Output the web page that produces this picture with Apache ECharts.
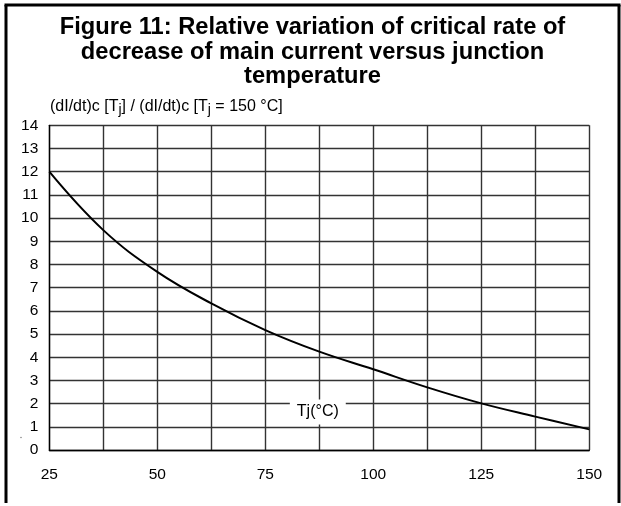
<!DOCTYPE html>
<html>
<head>
<meta charset="utf-8">
<script src="https://cdn.jsdelivr.net/npm/echarts@6/dist/echarts.min.js"></script>
<style>
html,body{margin:0;padding:0;background:#fff;}
#c{width:621px;height:506px;}
</style>
</head>
<body>
<div id="c"></div>
<script>
// Data
const temperatures = [25, 37.5, 50, 62.5, 75, 87.5, 100, 112.5, 125, 137.5, 150];
const ratioValues  = [12, 9.48, 7.68, 6.32, 5.17, 4.24, 3.48, 2.70, 2.01, 1.44, 0.89];
const xTickLabels = ['25', '50', '75', '100', '125', '150'];
const titleText = 'Figure 11: Relative variation of critical rate of\ndecrease of main current versus junction\ntemperature';
const xAxisLabel = 'Tj(°C)';

const FONT = '"Liberation Sans", Arial, sans-serif';
const chart = echarts.init(document.getElementById('c'), null, {renderer: 'canvas'});

const baseGraphic = [
  {type: 'line', shape: {x1: 6, y1: 5, x2: 6, y2: 503}, style: {stroke: '#000', lineWidth: 3}},
  {type: 'line', shape: {x1: 4.5, y1: 5, x2: 620.5, y2: 5}, style: {stroke: '#000', lineWidth: 3}},
  {type: 'line', shape: {x1: 619, y1: 5, x2: 619, y2: 503}, style: {stroke: '#000', lineWidth: 3}},
  {
    type: 'text', x: 312.5, y: 15.5, z: 10,
    style: {
      text: titleText, font: 'bold 23.7px ' + FONT, fill: '#000',
      align: 'center', verticalAlign: 'top', lineHeight: 24.5
    }
  },
  {
    type: 'text', left: 50, top: 99, z: 10,
    style: {
      text: '(dI/dt)c [T{s|j}] / (dI/dt)c [T{s|j} = 150 °C]',
      font: '16px ' + FONT, fill: '#000',
      rich: {s: {fontSize: 14, fontFamily: FONT, padding: [6, 0, 0, 0], fill: '#000'}}
    }
  },
  {type: 'circle', shape: {cx: 21, cy: 437.5, r: 0.8}, style: {fill: '#888'}}
];

const option = {
  animation: false,
  backgroundColor: '#fff',
  grid: {left: 49.3, right: 31.7, top: 125.3, bottom: 56, containLabel: false},
  xAxis: {
    type: 'value', min: 25, max: 150, interval: 12.5,
    axisLine: {show: true, lineStyle: {color: '#000', width: 1.3}},
    axisTick: {show: false},
    axisLabel: {
      margin: 17, color: '#000', fontFamily: FONT, fontSize: 15.5,
      formatter: v => xTickLabels.includes(String(v)) ? String(v) : ''
    },
    splitLine: {show: true, lineStyle: {color: '#333', width: 1.4}}
  },
  yAxis: {
    type: 'value', min: 0, max: 14, interval: 1,
    axisLine: {show: true, lineStyle: {color: '#000', width: 1.3}},
    axisTick: {show: false},
    axisLabel: {margin: 11, color: '#000', fontFamily: FONT, fontSize: 15.5},
    splitLine: {show: true, lineStyle: {color: '#333', width: 1.4}}
  },
  series: [{
    type: 'line',
    data: temperatures.map((t, i) => [t, ratioValues[i]]),
    smooth: 0.4,
    symbol: 'none',
    lineStyle: {color: '#000', width: 2},
    z: 3
  }],
  graphic: baseGraphic
};
chart.setOption(option);

// x-axis name placed inside the plot, positioned through the chart's own scale
const p = chart.convertToPixel({gridIndex: 0}, [87.5, 1.6]);
chart.setOption({
  graphic: baseGraphic.concat([{
    type: 'text', x: p[0] - 1.5, y: p[1] - 1, z: 10,
    style: {
      text: xAxisLabel, font: '16px ' + FONT, fill: '#000',
      align: 'center', verticalAlign: 'middle',
      backgroundColor: '#fff', padding: [6, 7, 3, 7]
    }
  }])
});
</script>
</body>
</html>
